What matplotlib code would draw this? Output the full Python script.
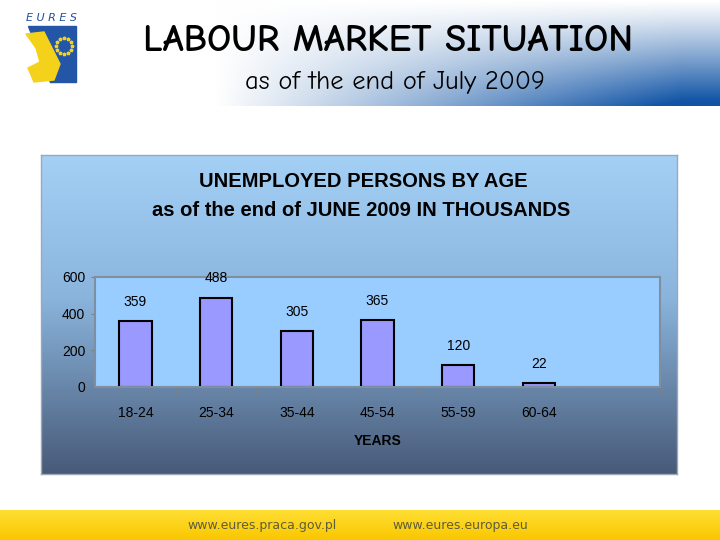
import numpy as np
import matplotlib.pyplot as plt
from matplotlib.patches import Polygon

# data
age_groups = ['18-24', '25-34', '35-44', '45-54', '55-59', '60-64']
unemployed = [359, 488, 305, 365, 120, 22]
y_ticks = [0, 200, 400, 600]
n_slots = 7  # chart keeps one empty category slot at the right

W, H = 720, 540
fig = plt.figure(figsize=(W / 100, H / 100), dpi=100)
fig.patch.set_facecolor('white')

def px_axes(x0, y0, x1, y1, **kw):
    # axes from pixel box (top-left origin)
    return fig.add_axes([x0 / W, 1 - y1 / H, (x1 - x0) / W, (y1 - y0) / H], **kw)

# header gradient: white at top/left, blue towards bottom right
hdr = px_axes(0, 0, 720, 106)
gx = np.linspace(0, 1, 300)
gy = np.linspace(0, 1, 60)  # 0 = top
hx = np.clip((gx - 0.3) / 0.65, 0, 1)
vy = gy ** 1.1
t = np.clip(hx[None, :] * vy[:, None] * 1.05, 0, 1)
c0 = np.array([1.0, 1.0, 1.0])
c1 = np.array([0x12, 0x55, 0xa6]) / 255
grad = c0 + (c1 - c0) * t[:, :, None]
hdr.imshow(grad, aspect='auto', extent=[0, 1, 0, 1], origin='upper')
hdr.set_xlim(0, 1)
hdr.set_ylim(0, 1)
hdr.axis('off')

comic = ['Comic Neue', 'DejaVu Sans']
fig.text(388 / W, 1 - 42 / H, 'LABOUR MARKET SITUATION', ha='center', va='center',
         fontsize=27.5, fontweight='bold', family=comic, color='black')
fig.text(395 / W, 1 - 82 / H, 'as of the end of July 2009', ha='center', va='center',
         fontsize=19, family=comic, color='black')

# EURES logo (simplified)
logo = px_axes(20, 12, 84, 86)
logo.set_xlim(0, 64)
logo.set_ylim(74, 0)
logo.axis('off')
logo.text(32, 6, 'E U R E S', ha='center', va='center', fontsize=8, style='italic',
          color='#1f4fa0')
logo.add_patch(Polygon([(8, 14), (56, 14), (56, 70), (30, 70)], color='#2456a8'))
logo.add_patch(Polygon([(6, 22), (24, 20), (34, 40), (40, 52), (34, 68), (14, 70),
                        (8, 56), (20, 50), (16, 36)], color='#f4d21c'))
for a in np.linspace(0, 2 * np.pi, 12, endpoint=False):
    logo.plot(44 + 8 * np.cos(a), 34 + 8 * np.sin(a), '*', color='#f4d21c', ms=2.5)

# footer yellow band
ftr = px_axes(0, 510, 720, 540)
fy = np.linspace(0, 1, 30)
top = np.array([1.0, 0.87, 0.2])
bot = np.array([0.98, 0.78, 0.0])
fgrad = top[None, None, :] + (bot - top)[None, None, :] * fy[:, None, None] * np.ones((1, 300, 1))
ftr.imshow(fgrad, aspect='auto', extent=[0, 1, 0, 1])
ftr.axis('off')
fig.text(262 / W, 1 - 526 / H, 'www.eures.praca.gov.pl', ha='center', va='center',
         fontsize=9, color='#5e5d3a')
fig.text(460 / W, 1 - 526 / H, 'www.eures.europa.eu', ha='center', va='center',
         fontsize=9, color='#5e5d3a')

# chart box with vertical gradient
box = px_axes(41, 155, 677, 474)
cy = np.linspace(0, 1, 200)
ctop = np.array([0xa4, 0xd0, 0xf6]) / 255
cmid = np.array([0x8a, 0xb4, 0xdc]) / 255
cbot = np.array([0x48, 0x5a, 0x78]) / 255
col = np.where(cy[:, None] < 0.45,
               ctop + (cmid - ctop) * (cy[:, None] / 0.45),
               cmid + (cbot - cmid) * ((cy[:, None] - 0.45) / 0.55))
box.imshow(np.repeat(col[:, None, :], 10, axis=1), aspect='auto', extent=[0, 1, 0, 1])
box.set_xlim(0, 1)
box.set_ylim(0, 1)
box.set_xticks([])
box.set_yticks([])
for s in box.spines.values():
    s.set_color('#9aa8b8')
    s.set_linewidth(1)

title_font = ['Liberation Sans Narrow', 'Liberation Sans']
fig.text(363 / W, 1 - 181 / H, 'UNEMPLOYED PERSONS BY AGE', ha='center', va='center',
         fontsize=14.5, fontweight='bold', family=title_font)
fig.text(361 / W, 1 - 211 / H, 'as of the end of JUNE 2009 IN THOUSANDS', ha='center',
         va='center', fontsize=14.5, fontweight='bold', family=title_font)

# plot area
ax = px_axes(95, 277, 660, 387)
ax.set_facecolor('#99ccff')
x = np.arange(len(age_groups))
ax.bar(x, unemployed, width=0.4, color='#9999ff', edgecolor='black', linewidth=1.5)
for xi, v in zip(x, unemployed):
    ax.annotate(str(v), (xi, v), xytext=(0, 14), textcoords='offset points',
                ha='center', va='center', fontsize=10, family='Liberation Sans')
ax.set_xlim(-0.5, n_slots - 0.5)
ax.set_ylim(0, 600)
ax.set_yticks(y_ticks)
ax.set_yticklabels([str(v) for v in y_ticks], fontsize=10, family='Liberation Sans')
ax.set_xticks(x)
ax.set_xticklabels(age_groups, fontsize=10, family='Liberation Sans')
ax.tick_params(axis='x', length=0, pad=14)
ax.set_xticks(np.arange(-0.5, n_slots), minor=True)
ax.tick_params(axis='x', which='minor', length=4, color='#808080')
ax.tick_params(axis='y', length=3, color='#808080', pad=4)
for s in ax.spines.values():
    s.set_color('#7f8fa0')
    s.set_linewidth(1.5)
ax.set_xlabel('YEARS', fontsize=10, fontweight='bold', family='Liberation Sans', labelpad=10)

fig.savefig('out.png', dpi=100)
